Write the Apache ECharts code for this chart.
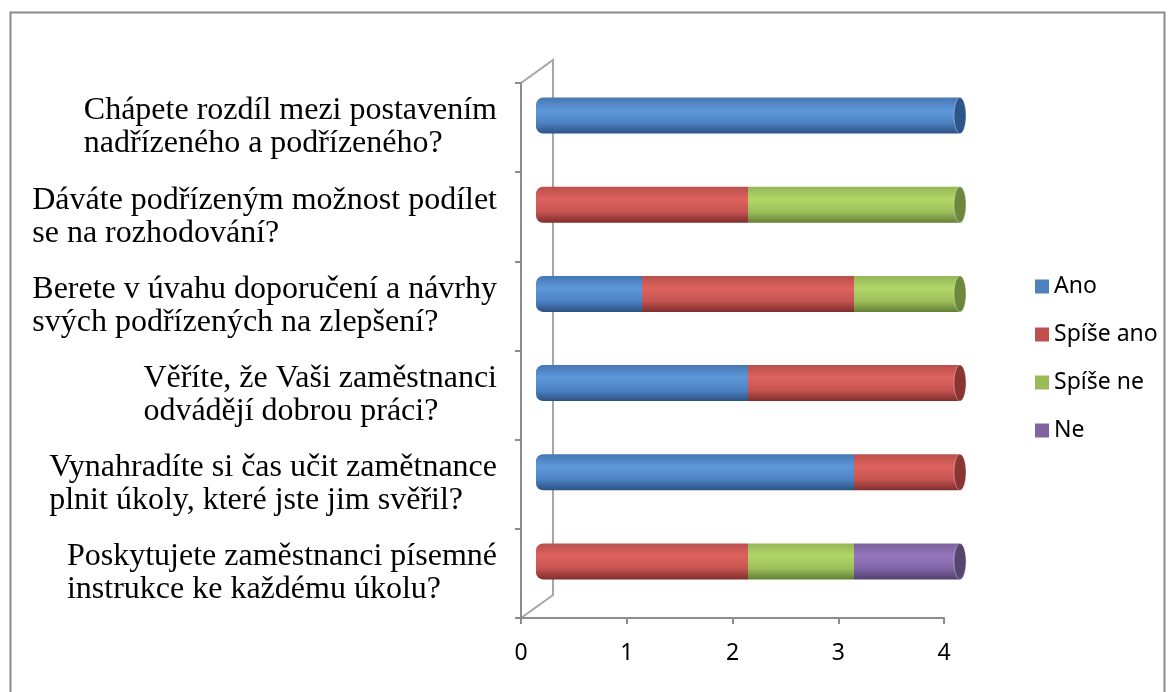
<!DOCTYPE html>
<html>
	<head>
		<meta charset="utf-8">
		<title>Otázky</title>
		<style type="text/css">
			html, body { margin: 0; padding: 0; background: #fff; }
			#main { width: 1171px; height: 692px; }
		</style>
	</head>
	<body>
		<div id="main"></div>
		<script src="https://cdn.jsdelivr.net/npm/echarts@6/dist/echarts.min.js" type="text/javascript"></script>
		<script type="text/javascript">
			var myChart = echarts.init(document.getElementById('main'));

			// otázky (shora dolů)
			var questions = [
				'Chápete rozdíl mezi postavením\nnadřízeného a podřízeného?',
				'Dáváte podřízeným možnost podílet\nse na rozhodování?',
				'Berete v úvahu doporučení a návrhy\nsvých podřízených na zlepšení?',
				'Věříte, že Vaši zaměstnanci\nodvádějí dobrou práci?',
				'Vynahradíte si čas učit zamětnance\nplnit úkoly, které jste jim svěřil?',
				'Poskytujete zaměstnanci písemné\ninstrukce ke každému úkolu?'
			];
			var xTicks = [0, 1, 2, 3, 4];

			var ano = [4, 0, 1, 2, 3, 0];
			var spiseAno = [0, 2, 2, 2, 1, 2];
			var spiseNe = [0, 2, 1, 0, 0, 1];
			var ne = [0, 0, 0, 0, 0, 1];

			var names = ['Ano', 'Spíše ano', 'Spíše ne', 'Ne'];
			var colors = ['#4F81BD', '#C0504D', '#9BBB59', '#8064A2'];
			var shades = [
				['#4577B3', '#5E98DA', '#4D83C3', '#2C5184'],
				['#B9504C', '#DE625E', '#C55451', '#7E2E2B'],
				['#95B658', '#B2D667', '#9CBE5B', '#647F36'],
				['#7A619C', '#9677BE', '#8166A6', '#50406C']
			];
			var capColors = ['#2F568A', '#8A3532', '#6C883D', '#56466F'];
			var allData = [ano, spiseAno, spiseNe, ne];

			function grad(i) {
				var s = shades[i];
				return new echarts.graphic.LinearGradient(0, 0, 0, 1, [
					{ offset: 0, color: s[0] },
					{ offset: 0.35, color: s[1] },
					{ offset: 0.7, color: s[2] },
					{ offset: 1, color: s[3] }
				]);
			}

			// první a poslední nenulový segment pro každý řádek
			function firstIdx(r) {
				for (var k = 0; k < allData.length; k++) if (allData[k][r] > 0) return k;
				return -1;
			}
			function lastIdx(r) {
				for (var k = allData.length - 1; k >= 0; k--) if (allData[k][r] > 0) return k;
				return -1;
			}

			var series = names.map(function(nm, i) {
				return {
					name: nm,
					type: 'bar',
					stack: 'all',
					xAxisIndex: 1,
					yAxisIndex: 1,
					barWidth: 36,
					data: allData[i].map(function(v, r) {
						return {
							value: v,
							itemStyle: {
								borderRadius: firstIdx(r) === i ? [7, 0, 0, 7] : 0
							}
						};
					}),
					itemStyle: { color: grad(i) }
				};
			});

			// koncové elipsy válců
			var capData = questions.map(function(q, r) {
				var tot = 0;
				for (var k = 0; k < allData.length; k++) tot += allData[k][r];
				return [tot, r, lastIdx(r)];
			});
			series.push({
				type: 'custom',
				xAxisIndex: 1,
				yAxisIndex: 1,
				silent: true,
				z: 3,
				data: capData,
				renderItem: function(params, api) {
					var p = api.coord([api.value(0), api.value(1)]);
					var c = capColors[api.value(2)];
					return {
						type: 'ellipse',
						shape: { cx: p[0], cy: p[1], rx: 6, ry: 18 },
						style: { fill: c, stroke: 'rgba(255,255,255,0.35)', lineWidth: 1 }
					};
				}
			});

			var axisGray = '#8C8C8C';

			option = {
				animation: false,
				color: colors,
				legend: {
					orient: 'vertical',
					left: 1030,
					top: 270,
					itemWidth: 14,
					itemHeight: 14,
					itemGap: 25,
					itemTextGap: 6,
					icon: 'rect',
					data: names.map(function(nm, i) {
						return { name: nm, itemStyle: { color: colors[i] } };
					}),
					textStyle: { fontFamily: 'Noto Sans', fontSize: 23, color: '#000' }
				},
				grid: [
					{ left: 521, right: 227, top: 83, bottom: 74 },
					{ left: 536, right: 211, top: 71, bottom: 86 }
				],
				xAxis: [
					{
						gridIndex: 0,
						type: 'value',
						min: 0,
						max: 4,
						interval: 1,
						axisLine: { show: true, lineStyle: { color: axisGray, width: 2 } },
						axisTick: { show: true, length: 6, lineStyle: { color: axisGray, width: 2 } },
						axisLabel: {
							margin: 24,
							fontFamily: 'Noto Sans',
							fontSize: 23,
							color: '#000',
							formatter: function(v) { return xTicks.indexOf(v) >= 0 ? String(v) : ''; }
						},
						splitLine: { show: false }
					},
					{
						gridIndex: 1,
						type: 'value',
						min: 0,
						max: 4,
						show: false
					}
				],
				yAxis: [
					{
						gridIndex: 0,
						type: 'category',
						inverse: true,
						data: questions,
						axisLine: { show: true, lineStyle: { color: axisGray, width: 2 } },
						axisTick: { show: true, length: 6, lineStyle: { color: axisGray, width: 2 } },
						axisLabel: {
							margin: 24,
							align: 'right',
							// řádky uvnitř bloku zarovnané vlevo
							formatter: function(v) {
								return v.split('\n').map(function(line) {
									return '{l|' + line + '}';
								}).join('\n');
							},
							rich: {
								l: {
									fontFamily: 'Liberation Serif',
									fontSize: 32,
									lineHeight: 33,
									color: '#000',
									align: 'left'
								}
							}
						}
					},
					{
						gridIndex: 1,
						type: 'category',
						inverse: true,
						data: questions,
						show: false
					}
				],
				graphic: [
					{
						type: 'rect',
						z: 0,
						silent: true,
						shape: { x: 10.5, y: 12.5, width: 1154, height: 700 },
						style: { fill: null, stroke: '#8A8A8A', lineWidth: 2 }
					},
					{
						type: 'polyline',
						z: 0,
						silent: true,
						shape: { points: [[521, 83], [553, 60], [553, 595], [521, 618]] },
						style: { fill: null, stroke: '#A6A6A6', lineWidth: 2 }
					}
				],
				series: series
			};
			myChart.setOption(option);
		</script>
	</body>
</html>
